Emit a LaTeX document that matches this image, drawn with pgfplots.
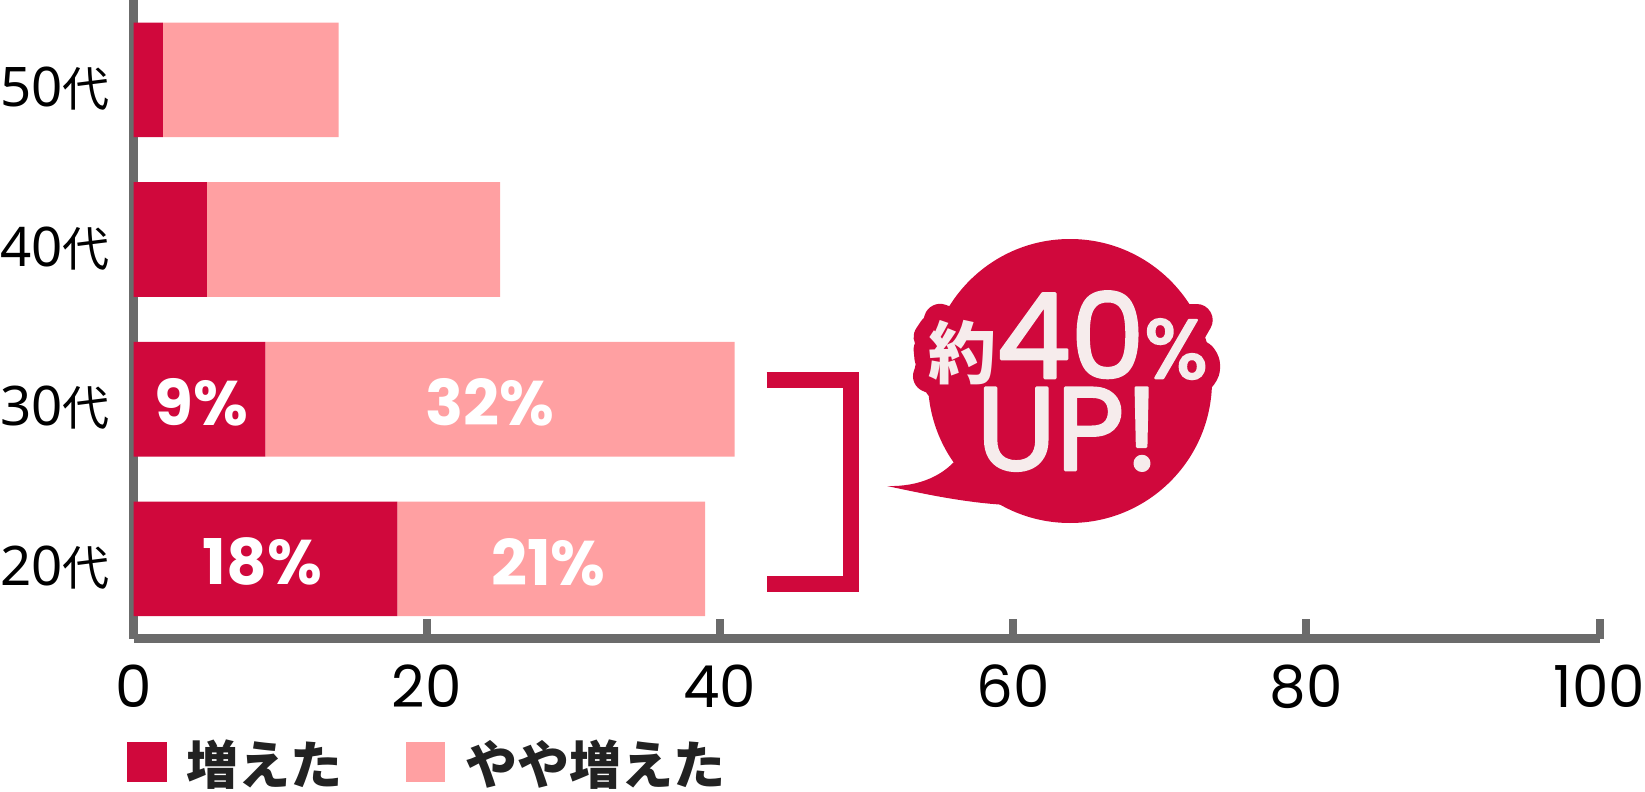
\documentclass[border=0pt]{standalone}
\usepackage{fontspec}
\setmainfont{Poppins}
\newfontfamily\cjk{Noto Sans CJK JP}
\newfontfamily\nsans{Noto Sans}
\usepackage{pgfplots}
\pgfplotsset{compat=1.18}
\definecolor{crim}{RGB}{208,8,60}
\definecolor{pinkb}{RGB}{255,160,162}
\definecolor{axgray}{RGB}{107,107,107}
\definecolor{bubtext}{RGB}{246,236,236}
\definecolor{legtext}{RGB}{34,34,34}
\newcommand\dai{{\cjk\fontsize{23.5}{23.5}\selectfont 代}}
\newcommand\thick[2]{\special{pdf:literal direct 2 Tr #1 w 1 j 1 J}#2\special{pdf:literal direct 0 Tr}}
\newcommand\yaku{{\cjk\bfseries\fontsize{34}{34}\selectfont 約}}
\newcommand\forty{{\fontsize{59}{59}\selectfont 40}{\fontsize{41.5}{41.5}\selectfont\%}}
\tikzset{barlab/.style={text=white, font=\fontsize{31.5}{31.5}\selectfont\bfseries, inner sep=0pt, yshift=-1.5pt}}
\begin{document}
\begin{tikzpicture}
\path[use as bounding box] (0pt,0pt) rectangle (822.5pt,-396pt);
\begin{axis}[
  at={(66.75pt,-319.35pt)}, anchor=south west,
  scale only axis, width=733pt, height=319.35pt,
  xbar stacked, bar width=0.718,
  xmin=0, xmax=100, ymin=-0.5, ymax=3.5,
  axis x line*=bottom, axis y line*=left,
  axis line style={draw=axgray, line width=4.5pt},
  xtick={0,20,40,60,80,100},
  xticklabels={0,20,40,60,80,100},
  ytick={0,1,2,3},
  yticklabels={20\dai,30\dai,40\dai,50\dai},
  tick align=inside,
  major tick length=9.7pt,
  xtick style={draw=axgray, line width=4pt},
  ytick style={draw=none},
  xticklabel style={font=\fontsize{29}{29}\selectfont, inner sep=0pt, anchor=base, yshift=-34.25pt},
  yticklabel style={font=\nsans\fontsize{27.3}{27.3}\selectfont, inner sep=0pt, anchor=east, xshift=-11.75pt, yshift=-4.4pt},
  legend image code/.code={\fill[#1] (0pt,-9pt) rectangle (19.75pt,10.75pt);},
  legend style={draw=none, fill=none, inner sep=0pt,
    at={(rel axis cs:0,0)}, anchor=north west, xshift=-3.25pt, yshift=-50.5pt,
    font=\cjk\fontsize{26}{26}\selectfont\bfseries, text=legtext,
    legend columns=2,
    nodes={inner sep=0pt},
    /tikz/every odd column/.append style={column sep=10pt},
    /tikz/every even column/.append style={column sep=31.5pt}},
  legend cell align=left,
]
\addplot[fill=crim, draw=none] coordinates {(18,0) (9,1) (5,2) (2,3)};
\addplot[fill=pinkb, draw=none] coordinates {(21,0) (32,1) (20,2) (12,3)};
\legend{増えた,やや増えた}
\coordinate (l18) at (axis cs:8.8,0);
\coordinate (l21) at (axis cs:28.3,0);
\coordinate (l9) at (axis cs:4.65,1);
\coordinate (l32) at (axis cs:24.3,1);
\end{axis}
\node[barlab] at (l18) {18\%};
\node[barlab] at (l21) {21\%};
\node[barlab] at (l9) {9\%};
\node[barlab] at (l32) {32\%};
\begin{scope}[x=0.5pt,y=-0.5pt]
\draw[crim, line width=7.75pt] (766.7,380) -- (851,380) -- (851,584) -- (766.7,584);
\fill[crim] (1070,381) circle (142);
\fill[crim] (887,486) .. controls (920,487) and (945,475) .. (960,455) -- (1010,470) -- (1008,505) .. controls (965,503) and (920,493) .. (887,486) -- cycle;
\node[anchor=base, text=crim, inner sep=0pt] at (1068,378) {\thick{16}{\yaku\forty}};
\node[anchor=base, text=bubtext, inner sep=0pt] at (1068,378) {\yaku\thick{1.3}{\forty}};
\node[anchor=base, text=bubtext, inner sep=0pt] at (1068,470) {\thick{1.3}{\fontsize{59}{59}\selectfont UP!}};
\end{scope}
\end{tikzpicture}
\end{document}
